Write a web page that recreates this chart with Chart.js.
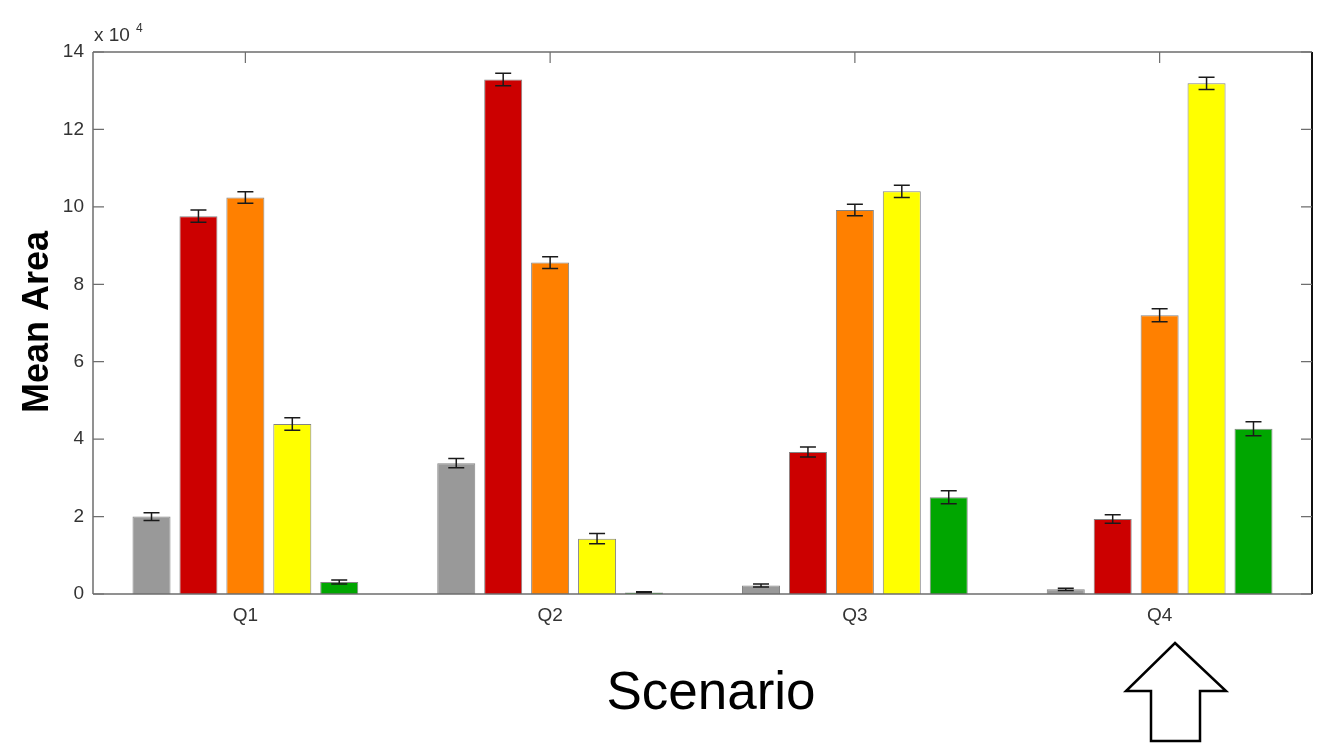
<!DOCTYPE html>
<html>
<head>
<meta charset="utf-8">
<script src="https://cdn.jsdelivr.net/npm/chart.js@4"></script>
<style>
html,body{margin:0;padding:0;background:#fff;}
#wrap{width:1320px;height:751px;position:relative;}
</style>
</head>
<body>
<div id="wrap"><canvas id="c" width="1320" height="751"></canvas></div>
<script>
// ---- data (values in raw units; axis shows x 10^4) ----
const categories = ['Q1', 'Q2', 'Q3', 'Q4'];
const seriesNames = ['Gray', 'Red', 'Orange', 'Yellow', 'Green'];
const grayVals   = [20000, 33800, 2200, 1200];
const redVals    = [97600, 132900, 36700, 19400];
const orangeVals = [102400, 85600, 99200, 72000];
const yellowVals = [43900, 14300, 104000, 131900];
const greenVals  = [3100, 400, 25000, 42700];
const grayErr    = [1000, 1200, 400, 300];
const redErr     = [1600, 1600, 1300, 1100];
const orangeErr  = [1500, 1500, 1500, 1700];
const yellowErr  = [1600, 1300, 1600, 1600];
const greenErr   = [500, 200, 1700, 1800];
const yTicks = [0, 20000, 40000, 60000, 80000, 100000, 120000, 140000];
const colors = ['#999999', '#CC0000', '#FF8000', '#FFFF00', '#00A600'];

const allVals = [grayVals, redVals, orangeVals, yellowVals, greenVals];
const allErr = [grayErr, redErr, orangeErr, yellowErr, greenErr];

const PLOT_LEFT = 93, PLOT_TOP = 52, PLOT_BOTTOM = 594, PLOT_RIGHT = 1312;

const decor = {
  id: 'decor',
  afterDatasetsDraw(chart) {
    const ctx = chart.ctx;
    const ys = chart.scales.y;
    ctx.save();
    ctx.strokeStyle = '#1a1a1a';
    ctx.lineWidth = 1.5;
    chart.data.datasets.forEach((ds, di) => {
      const meta = chart.getDatasetMeta(di);
      meta.data.forEach((bar, i) => {
        const v = allVals[di][i], e = allErr[di][i];
        const yt = ys.getPixelForValue(v + e), yb = ys.getPixelForValue(v - e);
        const x = bar.x, cw = 8;
        ctx.beginPath();
        ctx.moveTo(x, yt); ctx.lineTo(x, yb);
        ctx.moveTo(x - cw, yt); ctx.lineTo(x + cw, yt);
        ctx.moveTo(x - cw, yb); ctx.lineTo(x + cw, yb);
        ctx.stroke();
      });
    });
    ctx.restore();
  },
  afterDraw(chart) {
    const ctx = chart.ctx;
    const ys = chart.scales.y, xs = chart.scales.x;
    const a = chart.chartArea;
    ctx.save();
    // frame
    ctx.lineWidth = 1.5;
    ctx.strokeStyle = '#6e6e6e';
    ctx.beginPath();
    ctx.moveTo(a.left, a.top); ctx.lineTo(a.right, a.top);
    ctx.moveTo(a.left, a.top); ctx.lineTo(a.left, a.bottom);
    ctx.moveTo(a.left, a.bottom); ctx.lineTo(a.right, a.bottom);
    ctx.stroke();
    ctx.strokeStyle = '#111';
    ctx.lineWidth = 2;
    ctx.beginPath();
    ctx.moveTo(a.right, a.top); ctx.lineTo(a.right, a.bottom);
    ctx.stroke();
    // ticks
    ctx.strokeStyle = '#6e6e6e';
    ctx.lineWidth = 1.2;
    ctx.beginPath();
    yTicks.forEach(t => {
      const y = ys.getPixelForValue(t);
      ctx.moveTo(a.left, y); ctx.lineTo(a.left + 11, y);
      ctx.moveTo(a.right, y); ctx.lineTo(a.right - 11, y);
    });
    categories.forEach((c, i) => {
      const x = xs.getPixelForValue(i);
      ctx.moveTo(x, a.top); ctx.lineTo(x, a.top + 11);
    });
    ctx.stroke();
    // x 10^4
    ctx.fillStyle = '#333';
    ctx.font = '19px "Liberation Sans", Arial, sans-serif';
    ctx.textBaseline = 'alphabetic';
    ctx.textAlign = 'left';
    ctx.fillText('x 10', 94, 41);
    ctx.font = '12px "Liberation Sans", Arial, sans-serif';
    ctx.fillText('4', 136, 32);
    // y title
    ctx.fillStyle = '#000';
    ctx.font = 'bold 36px "Liberation Sans", Arial, sans-serif';
    ctx.translate(48, 322);
    ctx.rotate(-Math.PI / 2);
    ctx.textAlign = 'center';
    ctx.fillText('Mean Area', 0, 0);
    ctx.setTransform(1, 0, 0, 1, 0, 0);
    // x title
    ctx.font = '53px "Liberation Sans", Arial, sans-serif';
    ctx.textAlign = 'center';
    ctx.fillText('Scenario', 711, 709);
    // arrow
    ctx.strokeStyle = '#000';
    ctx.lineWidth = 2.5;
    ctx.lineJoin = 'miter';
    ctx.beginPath();
    ctx.moveTo(1175, 643);
    ctx.lineTo(1226, 691);
    ctx.lineTo(1200, 691);
    ctx.lineTo(1200, 741);
    ctx.lineTo(1151, 741);
    ctx.lineTo(1151, 691);
    ctx.lineTo(1126, 691);
    ctx.closePath();
    ctx.stroke();
    ctx.restore();
  }
};

new Chart(document.getElementById('c'), {
  type: 'bar',
  data: {
    labels: categories,
    datasets: allVals.map((vals, i) => ({
      label: seriesNames[i],
      data: vals,
      backgroundColor: colors[i],
      borderColor: 'rgba(80,80,80,0.7)',
      borderWidth: 1,
      categoryPercentage: 0.77,
      barPercentage: 0.81
    }))
  },
  options: {
    responsive: false,
    animation: false,
    devicePixelRatio: 1,
    layout: { padding: { top: PLOT_TOP, right: 1320 - PLOT_RIGHT, left: 0, bottom: 0 } },
    plugins: { legend: { display: false }, tooltip: { enabled: false } },
    scales: {
      x: {
        grid: { display: false, drawTicks: false },
        border: { display: false },
        ticks: { color: '#333', font: { family: '"Liberation Sans", Arial, sans-serif', size: 19 }, padding: 10 },
        afterFit: s => { s.height = 751 - PLOT_BOTTOM; }
      },
      y: {
        min: 0, max: 140000,
        grid: { display: false, drawTicks: false },
        border: { display: false },
        afterBuildTicks: s => { s.ticks = yTicks.map(v => ({ value: v })); },
        ticks: {
          color: '#333',
          font: { family: '"Liberation Sans", Arial, sans-serif', size: 19 },
          padding: 9,
          callback: v => String(v / 10000)
        },
        afterFit: s => { s.width = PLOT_LEFT; }
      }
    }
  },
  plugins: [decor]
});
</script>
</body>
</html>
